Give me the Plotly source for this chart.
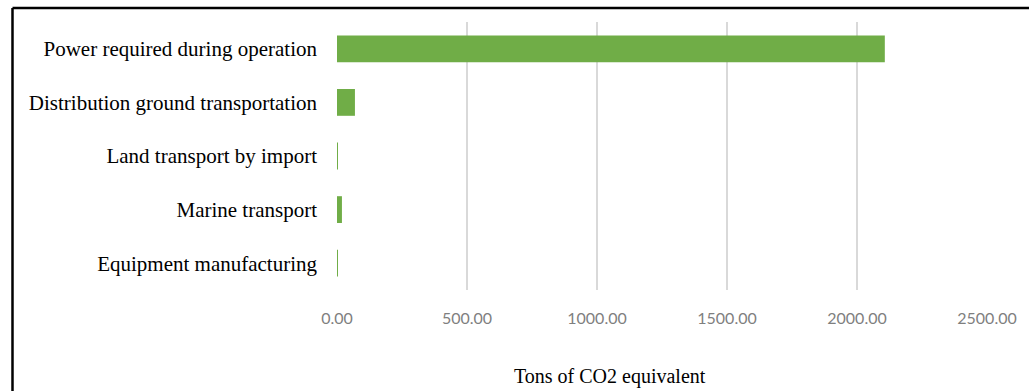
import plotly.graph_objects as go

categories = ["Power required during operation", "Distribution ground transportation",
              "Land transport by import", "Marine transport", "Equipment manufacturing"]
values = [2107, 69, 3, 19, 3]
tick_vals = [0, 500, 1000, 1500, 2000, 2500]
tick_text = ["0.00", "500.00", "1000.00", "1500.00", "2000.00", "2500.00"]

fig = go.Figure(go.Bar(
    x=values, y=categories, orientation="h",
    marker=dict(color="#70AD47", line=dict(width=0)),
    width=0.5,
))

W, H = 1029, 391
L, R, T, B = 337, 37, 22, 101
pw, ph = W - L - R, H - T - B

bx0 = (10 - L) / pw
bx1 = (1040 - L) / pw
by1 = 1 + (T - 8) / ph
by0 = -(400 - T - ph) / ph

fig.update_layout(
    width=W, height=H,
    margin=dict(l=L, r=R, t=T, b=B),
    paper_bgcolor="white", plot_bgcolor="white",
    showlegend=False,
    xaxis=dict(range=[0, 2500], tickvals=tick_vals, ticktext=tick_text,
               showgrid=True, gridcolor="#D9D9D9", gridwidth=2,
               zeroline=False, showline=False,
               ticklabelstandoff=17,
               tickfont=dict(family="Lato, Open Sans, sans-serif", size=16, color="#7F7F7F")),
    yaxis=dict(autorange="reversed", showgrid=False, zeroline=False, showline=False,
               ticklabelstandoff=19,
               tickfont=dict(family="Liberation Serif, Times New Roman, serif", size=21, color="black")),
    annotations=[dict(text="Tons of CO2 equivalent", x=(612 - L) / pw, y=-(376 - T - ph) / ph,
                      xref="paper", yref="paper", showarrow=False,
                      xanchor="center", yanchor="middle",
                      font=dict(family="Liberation Serif, Times New Roman, serif", size=20, color="black"))],
    shapes=[
        dict(type="line", xref="paper", yref="paper", x0=bx0, x1=bx1, y0=by1, y1=by1,
             line=dict(color="black", width=2.5), layer="above"),
        dict(type="line", xref="paper", yref="paper", x0=bx0, x1=bx0, y0=by0, y1=by1,
             line=dict(color="black", width=2.5), layer="above"),
    ],
)

fig.write_html("out.html")
